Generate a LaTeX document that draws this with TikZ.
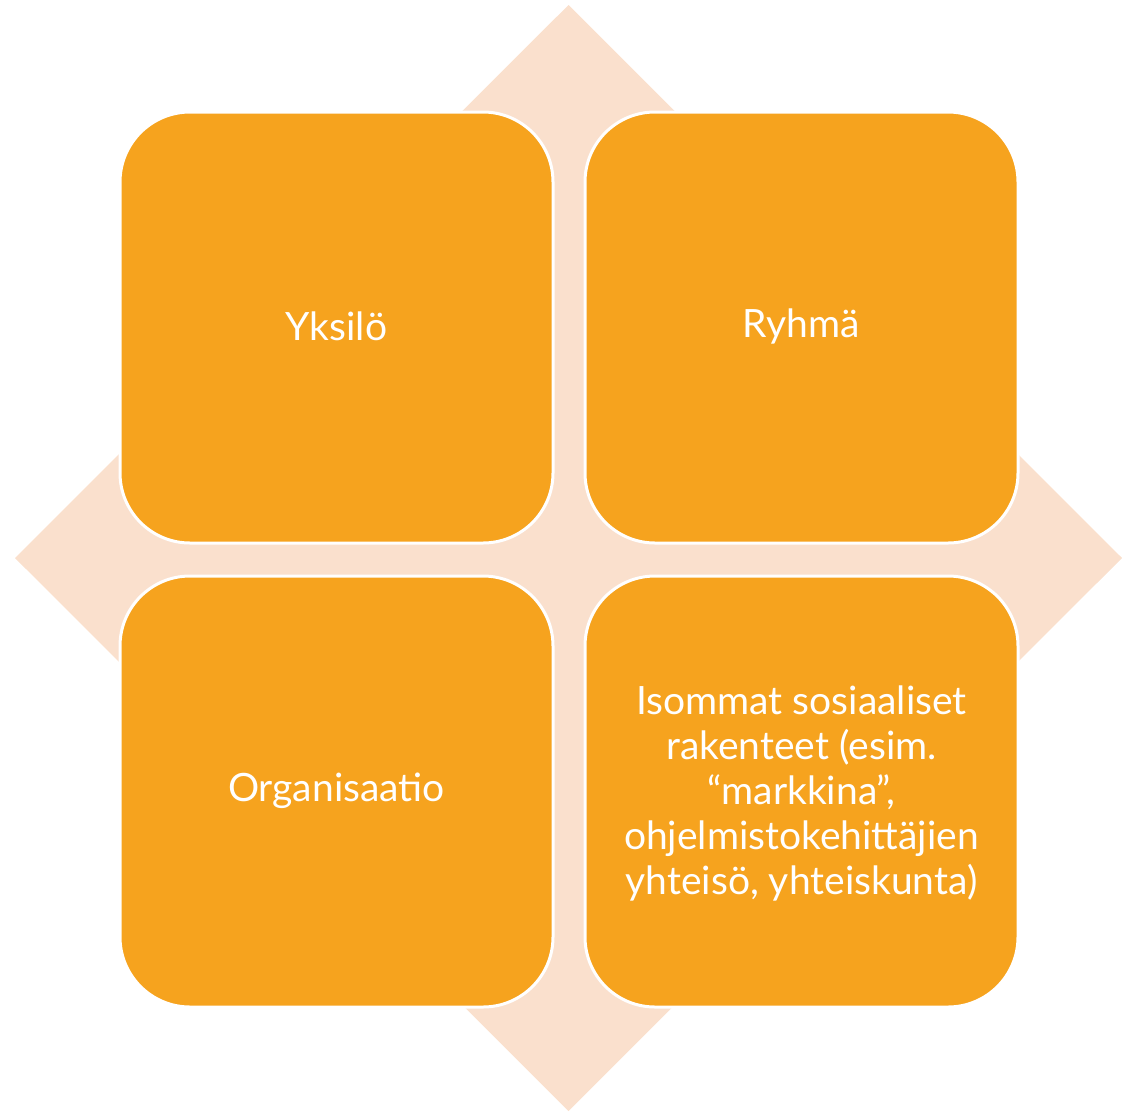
\documentclass[tikz,border=0pt]{standalone}
\usepackage{fontspec}
\setmainfont{Lato}
\definecolor{tileorange}{HTML}{F6A31E}
\definecolor{peach}{HTML}{FAE0CD}
\begin{document}
\begin{tikzpicture}[x=1pt,y=-1pt,
  tile/.style={draw=white,line width=3pt,fill=tileorange,rounded corners=70pt},
  tiletext/.style={text=white,font=\fontsize{39}{45}\selectfont,align=center}]
\useasboundingbox (0,0) rectangle (1122,1112);
% background diamond
\fill[peach] (568.5,5) -- (1122,558) -- (568.5,1111) -- (15,558) -- cycle;
% four tiles
\draw[tile] (120,112) rectangle (553,543);
\draw[tile] (585,112) rectangle (1018,543);
\draw[tile] (120,576) rectangle (553,1007);
\draw[tile] (585,576) rectangle (1018,1007);
% labels
\node[tiletext] (yksilo) at (336.5,326) {Yksilö};
\node[tiletext] (ryhma) at (801.5,326) {Ryhmä};
\node[tiletext] (org) at (336.5,791) {Organisaatio};
\node[tiletext] (isommat) at (801.5,793) {Isommat sosiaaliset\\rakenteet (esim.\\“markkina”,\\ohjelmistokehittäjien\\yhteisö, yhteiskunta)};
\end{tikzpicture}
\end{document}
